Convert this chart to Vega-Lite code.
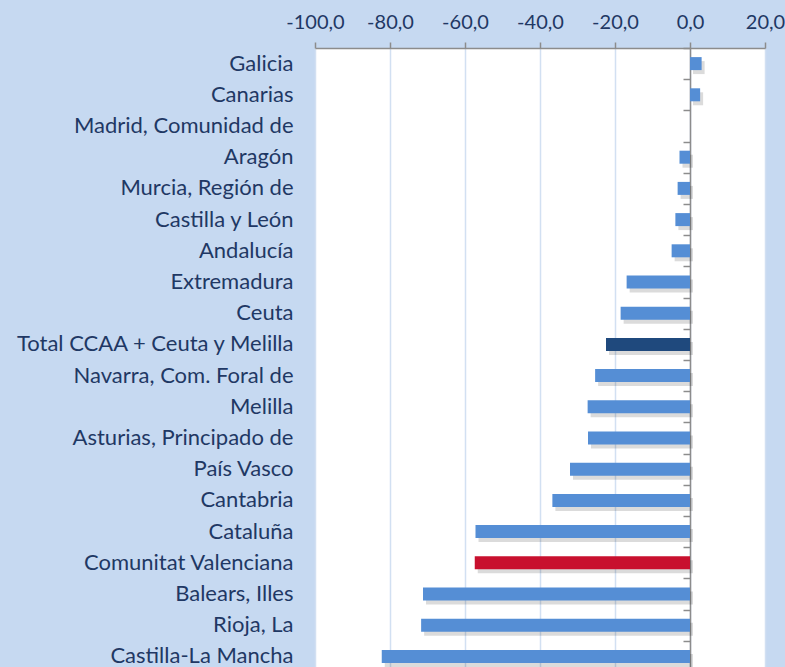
{
  "$schema": "https://vega.github.io/schema/vega-lite/v6.json",
  "autosize": "none",
  "padding": {"left": 315, "top": 48, "right": 20, "bottom": 0},
  "width": 450,
  "height": 624,
  "background": "#c6d9f1",
  "config": {
    "view": {"fill": "#ffffff", "stroke": null},
    "locale": {"number": {"decimal": ",", "thousands": ".", "grouping": [3], "currency": ["", " €"], "minus": "-"}},
    "font": "Lato"
  },
  "data": {"values": [
    {"region": "Galicia", "value": 3.1, "cat": "ccaa"},
    {"region": "Canarias", "value": 2.7, "cat": "ccaa"},
    {"region": "Madrid, Comunidad de\u2002", "value": 0.0, "cat": "ccaa"},
    {"region": "Aragón", "value": -2.8, "cat": "ccaa"},
    {"region": "Murcia, Región de", "value": -3.3, "cat": "ccaa"},
    {"region": "Castilla y León", "value": -3.9, "cat": "ccaa"},
    {"region": "Andalucía", "value": -4.9, "cat": "ccaa"},
    {"region": "Extremadura", "value": -16.9, "cat": "ccaa"},
    {"region": "Ceuta", "value": -18.5, "cat": "ccaa"},
    {"region": "Total CCAA + Ceuta y Melilla", "value": -22.4, "cat": "total"},
    {"region": "Navarra, Com. Foral de", "value": -25.3, "cat": "ccaa"},
    {"region": "Melilla", "value": -27.3, "cat": "ccaa"},
    {"region": "Asturias, Principado de", "value": -27.2, "cat": "ccaa"},
    {"region": "País Vasco", "value": -32.0, "cat": "ccaa"},
    {"region": "Cantabria", "value": -36.7, "cat": "ccaa"},
    {"region": "Cataluña", "value": -57.2, "cat": "ccaa"},
    {"region": "Comunitat Valenciana", "value": -57.4, "cat": "cv"},
    {"region": "Balears, Illes", "value": -71.2, "cat": "ccaa"},
    {"region": "Rioja, La", "value": -71.7, "cat": "ccaa"},
    {"region": "Castilla-La Mancha", "value": -82.2, "cat": "ccaa"}
  ]},
  "resolve": {"axis": {"y": "independent", "x": "independent"}},
  "layer": [
    {
      "mark": {"type": "bar", "size": 13, "color": "#000000", "opacity": 0.14, "xOffset": 3, "yOffset": 4},
      "encoding": {
        "y": {"field": "region", "type": "nominal", "sort": null,
          "scale": {"paddingInner": 0, "paddingOuter": 0},
          "axis": {"orient": "left", "title": null, "ticks": false, "domain": false, "labelPadding": 22,
            "labelFontSize": 22, "labelColor": "#1f3864", "labelFont": "Lato", "labelLimit": 400}},
        "x": {"field": "value", "type": "quantitative",
          "scale": {"domain": [-100, 20], "nice": false, "zero": false},
          "axis": {"orient": "top", "title": null, "values": [-100, -80, -60, -40, -20, 0, 20], "format": ".1f",
            "labelFlush": false, "labelOverlap": false, "labelBound": false,
            "labelFontSize": 20, "labelColor": "#1f3864", "labelPadding": 10, "tickSize": 6, "tickColor": "#8c8c8c",
            "tickWidth": 1.5, "domainColor": "#8c8c8c", "domainWidth": 1.5, "grid": true, "gridColor": "#d2e0f2", "gridWidth": 1.5}}
      }
    },
    {
      "mark": {"type": "bar", "size": 13},
      "encoding": {
        "y": {"field": "region", "type": "nominal", "sort": null,
          "axis": {"orient": "left", "offset": -375, "labels": false, "title": null, "tickBand": "extent",
            "tickSize": 7, "tickColor": "#8c8c8c", "tickWidth": 1.5, "domainColor": "#8c8c8c", "domainWidth": 1.5, "grid": false}},
        "x": {"field": "value", "type": "quantitative", "axis": null},
        "color": {"field": "cat", "type": "nominal", "legend": null,
          "scale": {"domain": ["ccaa", "total", "cv"], "range": ["#558ed5", "#1f497d", "#c8102e"]}}
      }
    }
  ]
}
